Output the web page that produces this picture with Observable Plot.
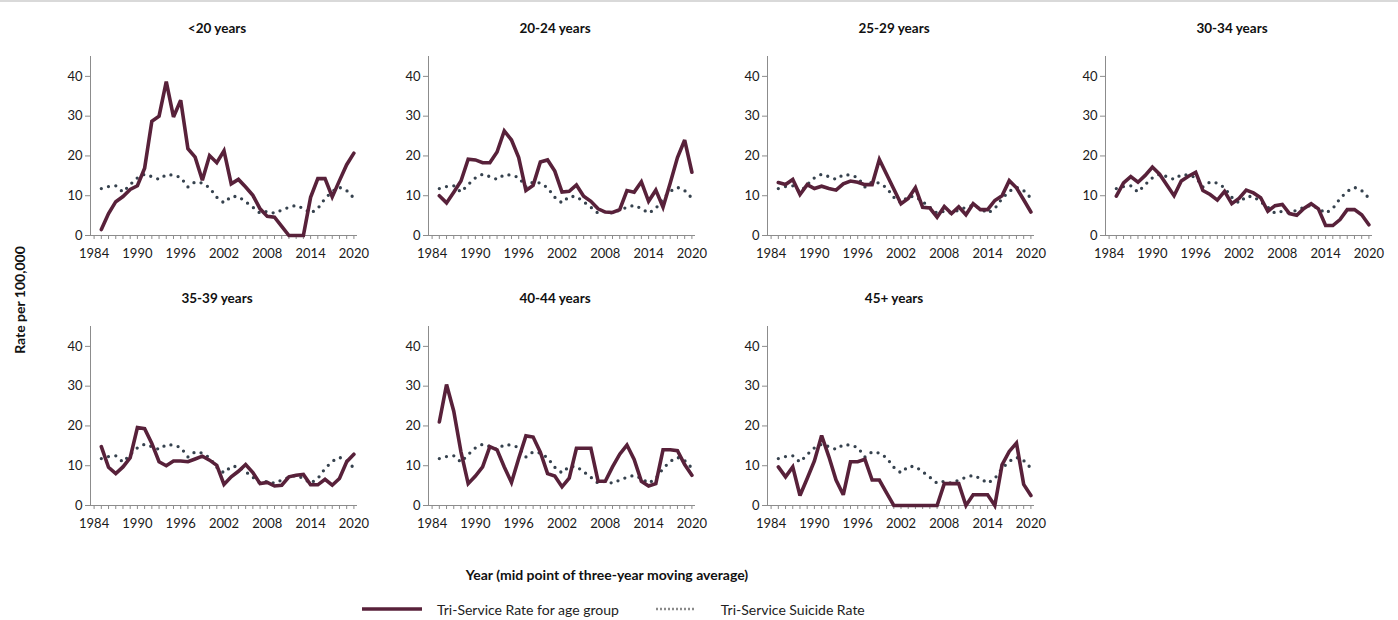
<!DOCTYPE html>
<html>
<head>
<meta charset="utf-8">
<script src="https://cdn.jsdelivr.net/npm/d3@7"></script>
<script src="https://cdn.jsdelivr.net/npm/@observablehq/plot@0.6"></script>
<style>
  html, body { margin: 0; padding: 0; background: #fff; }
  #chart { position: relative; width: 1398px; height: 620px; background: #fff; border-top: 2px solid #d9d9d9; box-sizing: border-box; font-family: Lato, "Open Sans", sans-serif; color: #111; overflow: hidden; }
  .panel { position: absolute; }
  .ylab { position: absolute; left: 19px; top: 298px; transform: translate(-50%, -50%) rotate(-90deg); font-weight: bold; font-size: 14px; white-space: nowrap; }
  .xlab { position: absolute; left: 607px; top: 572px; transform: translate(-50%, -50%); font-weight: bold; font-size: 14px; white-space: nowrap; }
  .legend { position: absolute; top: 597px; left: 360px; font-size: 14px; display: flex; align-items: center; white-space: nowrap; color: #222; }
  .legend svg { display: block; }
</style>
</head>
<body>
<div id="chart"></div>
<script>
const years = [1985,1986,1987,1988,1989,1990,1991,1992,1993,1994,1995,1996,1997,1998,1999,2000,2001,2002,2003,2004,2005,2006,2007,2008,2009,2010,2011,2012,2013,2014,2015,2016,2017,2018,2019,2020];
const tickYears = [1984,1985,1986,1987,1988,1989,1990,1991,1992,1993,1994,1995,1996,1997,1998,1999,2000,2001,2002,2003,2004,2005,2006,2007,2008,2009,2010,2011,2012,2013,2014,2015,2016,2017,2018,2019,2020];
const labelYears = [1984,1990,1996,2002,2008,2014,2020];
const yTicks = [0,10,20,30,40];

const triServiceRate = [11.8,12.3,12.5,10.9,12.8,14.5,15.4,14.8,14.1,15.3,15.2,14.6,12.2,13.5,13.2,12.0,9.6,8.2,9.8,9.8,8.5,7.1,5.6,6.1,5.6,6.4,7.1,7.6,6.8,5.6,6.8,9.3,11.1,12.1,11.3,9.4];

const under20 = [1.5,5.5,8.5,9.8,11.6,12.5,16.9,28.7,30.0,38.7,29.8,34.0,21.8,19.7,13.9,20.1,18.3,21.3,13.0,14.1,12.2,10.1,6.7,4.8,4.6,2.3,0,0,0,9.6,14.3,14.3,9.7,13.8,17.8,20.7];
const age20to24 = [10.0,8.2,10.9,13.7,19.2,19.0,18.3,18.3,21.0,26.3,24.0,19.6,11.3,12.6,18.5,19.0,16.2,10.9,11.1,12.7,9.9,8.6,6.7,5.9,5.8,6.5,11.3,10.9,13.5,8.6,11.4,7.1,13.2,19.6,24.0,15.9];
const age25to29 = [13.3,12.8,14.1,10.3,12.8,11.8,12.4,11.8,11.4,13.0,13.7,13.4,12.8,12.8,19.1,15.4,11.7,8.0,9.3,12.0,7.1,6.9,4.6,7.3,5.5,7.2,5.2,8.0,6.5,6.5,8.8,10.0,13.8,12.0,9.0,5.9];
const age30to34 = [9.9,13.2,14.8,13.4,15.1,17.2,15.4,12.7,10.0,13.7,14.9,15.9,11.3,10.3,8.9,11.1,8.0,9.3,11.4,10.7,9.5,6.1,7.5,7.8,5.5,5.1,6.8,8.0,6.7,2.5,2.5,4.0,6.5,6.5,5.2,2.7];
const age35to39 = [14.8,9.6,8.0,9.7,12.0,19.6,19.3,15.6,11.0,10.0,11.2,11.2,11.0,11.7,12.4,11.4,10.1,5.3,7.2,8.6,10.3,8.3,5.5,5.8,4.9,5.1,7.2,7.6,7.8,5.2,5.2,6.6,5.1,6.8,11.0,12.9];
const age40to44 = [21.0,30.4,23.7,13.5,5.5,7.4,9.7,14.8,14.0,9.7,5.8,11.8,17.5,17.2,13.4,8.0,7.4,4.7,6.9,14.4,14.4,14.4,6.1,6.1,9.7,12.9,15.2,11.6,6.1,4.9,5.5,14.0,14.0,13.8,10.3,7.6];
const age45plus = [9.7,7.2,9.7,2.5,6.8,11.2,17.6,12.3,6.4,2.7,11.0,11.0,11.6,6.4,6.4,3.2,0,0,0,0,0,0,0,5.5,5.5,5.5,0,2.7,2.7,2.7,0,10.2,13.6,15.7,5.3,2.5];

const panelTitles = ["<20 years","20-24 years","25-29 years","30-34 years","35-39 years","40-44 years","45+ years"];
const panelSeries = [under20, age20to24, age25to29, age30to34, age35to39, age40to44, age45plus];

const legendLabels = ["Tri-Service Rate for age group", "Tri-Service Suicide Rate"];

const MAROON = "#58213a";
const DOTS = "#36424e";
const AXIS = "#8c8c8c";

const chart = document.getElementById("chart");
const colX = [90, 428, 767, 1105];
const rowY = [0, 270];
const mL = 40, mR = 13, mT = 54, mB = 32, plotW = 267, plotH = 179;

panelSeries.forEach((vals, i) => {
  const col = i % 4, row = Math.floor(i / 4);
  const groupData = years.map((y, k) => ({year: y, value: vals[k]}));
  const overallData = years.map((y, k) => ({year: y, value: triServiceRate[k]}));
  const svg = Plot.plot({
    width: mL + plotW + mR,
    height: mT + plotH + mB,
    marginLeft: mL, marginRight: mR, marginTop: mT, marginBottom: mB,
    style: {fontFamily: "Lato, 'Open Sans', sans-serif", fontSize: "13px", color: "#111", background: "transparent", overflow: "visible"},
    x: {domain: [1983.5, 2020.5]},
    y: {domain: [0, 45]},
    marks: [
      Plot.ruleX([1983.5], {stroke: AXIS, strokeWidth: 1}),
      Plot.ruleY([0], {stroke: AXIS, strokeWidth: 1}),
      Plot.axisY({ticks: yTicks, tickSize: 5, tickPadding: 3, stroke: AXIS, fill: "#1a1a1a", label: null, tickFormat: d => String(d), fontSize: 13}),
      Plot.axisX({ticks: tickYears, tickSize: 4, tickFormat: () => "", stroke: AXIS, label: null}),
      Plot.axisX({ticks: labelYears, tickSize: 0, tickPadding: 13, tickFormat: d => String(d), fill: "#1a1a1a", label: null, fontSize: 13}),
      Plot.line(overallData, {x: "year", y: "value", stroke: DOTS, strokeWidth: 3.3, strokeDasharray: "0 7.4", strokeLinecap: "round"}),
      Plot.line(groupData, {x: "year", y: "value", stroke: MAROON, strokeWidth: 3.6, strokeLinejoin: "miter", strokeMiterlimit: 3}),
      Plot.text([panelTitles[i]], {frameAnchor: "top", lineAnchor: "middle", dy: -28, dx: -7, text: d => d, fontWeight: "bold", fontSize: 13.5, fill: "#111"})
    ]
  });
  const wrap = document.createElement("div");
  wrap.className = "panel";
  wrap.style.left = (colX[col] - mL) + "px";
  wrap.style.top = rowY[row] + "px";
  wrap.appendChild(svg);
  chart.appendChild(wrap);
});

const ylab = document.createElement("div");
ylab.className = "ylab";
ylab.textContent = "Rate per 100,000";
chart.appendChild(ylab);

const xlab = document.createElement("div");
xlab.className = "xlab";
xlab.textContent = "Year (mid point of three-year moving average)";
chart.appendChild(xlab);

const legend = document.createElement("div");
legend.className = "legend";
legend.innerHTML =
  `<svg width="64" height="20"><line x1="2" y1="10" x2="62" y2="10" stroke="${MAROON}" stroke-width="3.6"/></svg>` +
  `<span style="margin-left:13px">${legendLabels[0]}</span>` +
  `<svg width="42" height="20" style="margin-left:35px"><line x1="2" y1="10" x2="40" y2="10" stroke="#8a8a8a" stroke-width="2.4" stroke-dasharray="2 2"/></svg>` +
  `<span style="margin-left:25px">${legendLabels[1]}</span>`;
chart.appendChild(legend);
</script>
</body>
</html>
